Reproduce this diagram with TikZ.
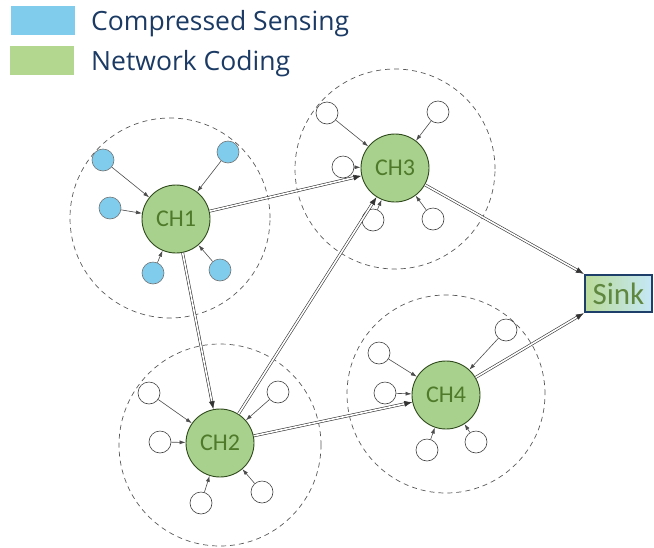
\documentclass[tikz,border=0pt]{standalone}
\usepackage{fontspec}
\setmainfont{Open Sans}
\newfontfamily\chfont{Carlito}
\usetikzlibrary{arrows.meta,positioning,calc,shapes.geometric}
\usepackage{xcolor}
\definecolor{navy}{HTML}{1B3A64}
\definecolor{csblue}{HTML}{7FCCEC}
\definecolor{ncgreen}{HTML}{B3D78F}
\definecolor{chfill}{HTML}{A9D18E}
\definecolor{chline}{HTML}{2F4A1C}
\definecolor{chtext}{HTML}{4E7A2A}
\definecolor{sinkline}{HTML}{1F3F6B}
\tikzset{
  head/.style={circle,draw=chline,line width=0.9pt,fill=chfill,minimum size=68pt,inner sep=0pt,font=\chfont\fontsize{24}{24}\selectfont,text=chtext},
  member/.style={circle,draw=black!75,line width=0.6pt,fill=white,minimum size=22pt,inner sep=0pt},
  csmember/.style={member,fill=csblue,draw=black!55},
  zone/.style={circle,draw=black!65,dash pattern=on 5pt off 4pt,line width=0.7pt},
  key/.style={draw=white,minimum width=65pt,minimum height=30pt,inner sep=0pt},
  keytext/.style={anchor=base west,text=navy,font=\fontsize{26.5}{26.5}\selectfont,inner sep=0pt},
  sinkbox/.style={draw=sinkline,line width=2.2pt,left color=ncgreen!90,right color=csblue!45,minimum width=67pt,minimum height=37pt,inner sep=0pt,font=\chfont\fontsize{31}{31}\selectfont,text=chtext!90},
  hlink/.style={draw=black!80,line width=0.6pt,double=white,double distance=1.6pt,-{Latex[length=8pt,width=6pt]}},
  feed/.style={draw=black!70,line width=0.6pt,-{Latex[length=6pt,width=4pt]}}
}

\begin{document}
\begin{tikzpicture}[x=1pt,y=-1pt]
  \useasboundingbox (0,0) rectangle (654,547);

  % legend
  \node[key,fill=csblue] (kcs) at (42.5,20) {};
  \node[key,fill=ncgreen] (knc) at (41.5,60) {};
  \node[keytext] (tcs) at (91,30) {Compressed Sensing};
  \node[keytext] (tnc) at (91,70) {Network Coding};

  % cluster ranges
  \node[zone,minimum size=200pt] (z1) at (170,218) {};
  \node[zone,minimum size=200pt] (z3) at (395,169) {};
  \node[zone,minimum size=202pt] (z2) at (220,445) {};
  \node[zone,minimum size=198pt] (z4) at (446,394) {};

  % cluster heads
  \node[head] (ch1) at (176,219) {CH1};
  \node[head] (ch3) at (395,168) {CH3};
  \node[head] (ch2) at (220,443) {CH2};
  \node[head] (ch4) at (446,395) {CH4};

  \node[sinkbox] (sink) at (618.5,293.5) {Sink};

  % members of CH1
  \node[csmember] (a1) at (103,160) {};
  \node[csmember] (a2) at (228,152) {};
  \node[csmember] (a3) at (110,208) {};
  \node[csmember] (a4) at (153,273) {};
  \node[csmember] (a5) at (220,270) {};
  % members of CH3
  \node[member] (c1) at (327,113) {};
  \node[member] (c2) at (438,112) {};
  \node[member] (c3) at (343,167) {};
  \node[member] (c4) at (373,220) {};
  \node[member] (c5) at (433,219) {};
  % members of CH2
  \node[member] (b1) at (149,393) {};
  \node[member] (b2) at (278,392) {};
  \node[member] (b3) at (160,442) {};
  \node[member] (b4) at (201,503) {};
  \node[member] (b5) at (262,492) {};
  % members of CH4
  \node[member] (d1) at (379,353) {};
  \node[member] (d2) at (506,330) {};
  \node[member] (d3) at (385,393) {};
  \node[member] (d4) at (427,450) {};
  \node[member] (d5) at (476,442) {};

  \foreach \m in {a1,a2,a3,a4,a5} \draw[feed] (\m) -- (ch1);
  \foreach \m in {c1,c2,c3,c4,c5} \draw[feed] (\m) -- (ch3);
  \foreach \m in {b1,b2,b3,b4,b5} \draw[feed] (\m) -- (ch2);
  \foreach \m in {d1,d2,d3,d4,d5} \draw[feed] (\m) -- (ch4);

  \draw[hlink] (ch1) -- (ch3);
  \draw[hlink] (ch1) -- (ch2);
  \draw[hlink] (ch2) -- (ch3);
  \draw[hlink] (ch2) -- (ch4);
  \draw[hlink] (ch3) -- (sink.north west);
  \draw[hlink] (ch4) -- (sink.south west);
\end{tikzpicture}
\end{document}
